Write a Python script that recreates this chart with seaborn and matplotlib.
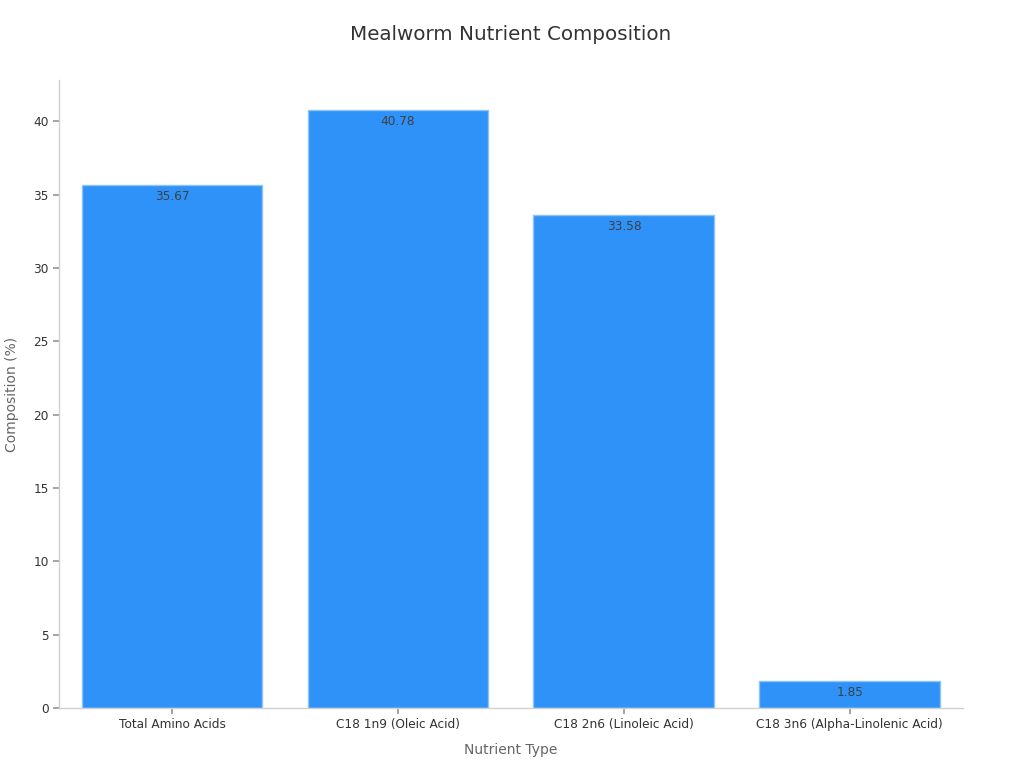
import matplotlib
matplotlib.use("Agg")
import matplotlib.pyplot as plt
import seaborn as sns
import pandas as pd

# Chart data
nutrients = ["Total Amino Acids", "C18 1n9 (Oleic Acid)", "C18 2n6 (Linoleic Acid)",
             "C18 3n6 (Alpha-Linolenic Acid)"]
composition = [35.67, 40.78, 33.58, 1.85]

df = pd.DataFrame({"Nutrient Type": nutrients, "Composition (%)": composition})

sns.set_theme(style="white")
plt.rcParams["font.family"] = ["DejaVu Sans"]

fig = plt.figure(figsize=(10.24, 7.68), dpi=100)
ax = fig.add_axes([0.0576, 0.078, 0.8826, 0.818])

sns.barplot(data=df, x="Nutrient Type", y="Composition (%)", color="#2E92F8",
            saturation=1, width=0.8, edgecolor="#8CC4F5", linewidth=1, ax=ax)

# Value labels just inside the bar tops
for bar, val in zip(ax.patches, composition):
    ax.annotate(f"{val:.2f}", (bar.get_x() + bar.get_width() / 2, bar.get_height()),
                xytext=(0, -3.5), textcoords="offset points", ha="center", va="top",
                fontsize=8.75, color="#404040")

ax.set_ylim(0, max(composition) * 1.05)
ax.set_xlim(-0.5, len(nutrients) - 0.5)
ax.set_yticks(range(0, 45, 5))

ax.set_title("Mealworm Nutrient Composition", fontsize=14.3, color="#333333", pad=29)
ax.set_xlabel("Nutrient Type", fontsize=10, color="#666666", labelpad=9)
ax.set_ylabel("Composition (%)", fontsize=10, color="#666666", labelpad=10)

sns.despine(ax=ax)
for side in ["left", "bottom"]:
    ax.spines[side].set_color("#D0D0D0")
    ax.spines[side].set_linewidth(1)
ax.tick_params(axis="both", which="both", length=4, color="#999999", labelsize=8.75,
               labelcolor="#333333", bottom=True, left=True)
ax.tick_params(axis="x", pad=3)

fig.savefig("out.png", dpi=100)
